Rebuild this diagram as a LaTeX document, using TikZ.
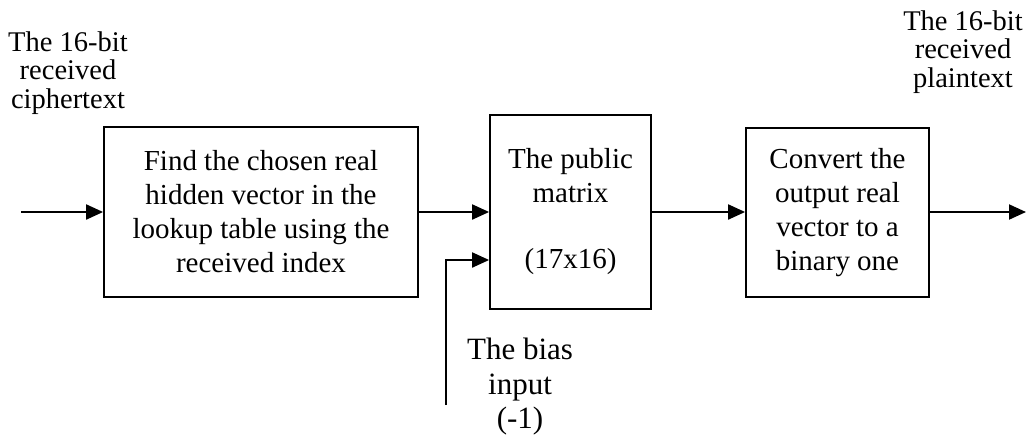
\documentclass[tikz,border=0pt]{standalone}
\usepackage{fontspec}
\setmainfont{Liberation Serif}
\usetikzlibrary{arrows.meta}
\begin{document}
\begin{tikzpicture}[x=1pt,y=-1pt,
  blk/.style={draw,line width=1.8pt,inner sep=0pt,align=center,
    font=\fontsize{29}{34}\selectfont},
  lbl/.style={align=center,inner sep=0pt,font=\fontsize{28.5}{28.5}\selectfont},
  biaslbl/.style={align=center,inner sep=0pt,font=\fontsize{31}{34.5}\selectfont},
  flow/.style={line width=2pt,-{Triangle[length=17pt,width=15pt]}}]
\useasboundingbox (0,0) rectangle (1030,434);
\node[blk,minimum width=314pt,minimum height=170pt] (find) at (261,212)
  {Find the chosen real\\hidden vector in the\\lookup table using the\\received index};
\node[blk,minimum width=161pt,minimum height=194pt] (pub) at (570.5,212)
  {The public\\matrix\\[32pt](17x16)};
\node[blk,minimum width=183pt,minimum height=169pt] (conv) at (837.5,212.5)
  {Convert the\\output real\\vector to a\\binary one};
\node[lbl] (cin) at (68,73) {The 16-bit\\received\\ciphertext};
\node[lbl] (pout) at (963,52) {The 16-bit\\received\\plaintext};
\node[biaslbl] (bias) at (520,387) {The bias\\input\\(-1)};
\coordinate (src) at (21,212);
\coordinate (dst) at (1026,212);
\coordinate (bsrc) at (446,405);
\draw[flow] (src) -- (find.west);
\draw[flow] (find.east) -- (pub.west);
\draw[flow] (bsrc) |- ([yshift=-48pt]pub.west);
\draw[flow] (pub.east) -- (conv.west |- pub.east);
\draw[flow] (conv.east |- pub.east) -- (dst);
\end{tikzpicture}
\end{document}
